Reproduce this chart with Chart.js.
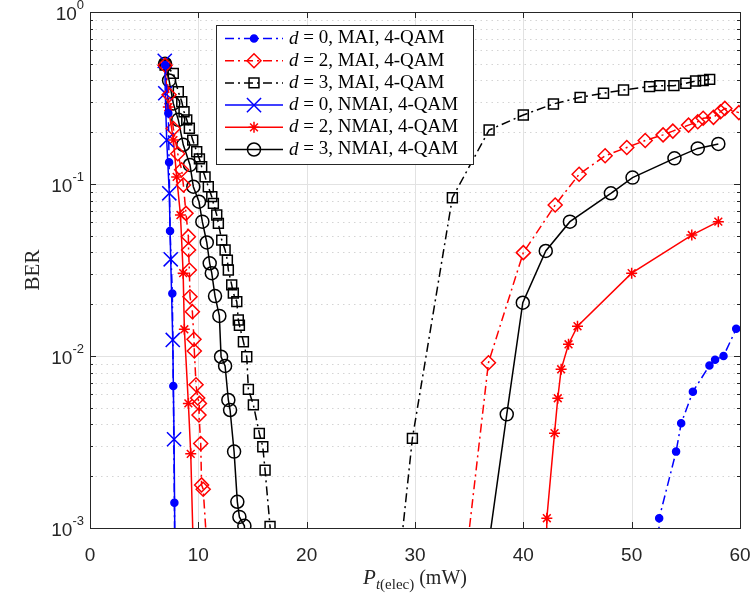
<!DOCTYPE html>
<html>
<head>
<meta charset="utf-8">
<script src="https://cdn.jsdelivr.net/npm/chart.js@4.4.0/dist/chart.umd.min.js"></script>
<style>
  body { margin: 0; background: #fff; }
  #wrap { width: 753px; height: 595px; position: relative; }
</style>
</head>
<body>
<div id="wrap"><canvas id="grafico"></canvas></div>
<script>
// Eixos
const xTickValues = [0, 10, 20, 30, 40, 50, 60];
const yDecades = [1, 0.1, 0.01, 0.001];
const yTickExponents = ['0', '-1', '-2', '-3'];

// Legendas (mesma ordem das séries)
const seriesLabels = [
  'd = 0, MAI, 4-QAM',
  'd = 2, MAI, 4-QAM',
  'd = 3, MAI, 4-QAM',
  'd = 0, NMAI, 4-QAM',
  'd = 2, NMAI, 4-QAM',
  'd = 3, NMAI, 4-QAM'
];

// d = 0, MAI (os pontos 1e-4 ficam abaixo do eixo, cortados)
const powerMai0 = [6.95, 7.23, 7.30, 7.39, 7.60, 7.69, 7.79, 7.90, 52.2, 52.54, 54.1, 54.57, 55.65, 57.18, 57.7, 58.48, 59.65];
const berMai0 = [0.49, 0.258, 0.134, 0.0533, 0.0231, 0.0067, 0.0014, 0.0001, 0.0001, 0.00114, 0.00278, 0.00406, 0.0062, 0.0088, 0.0095, 0.0100, 0.0144];

// d = 2, MAI
const powerMai2 = [6.93, 7.3, 7.69, 8.1, 8.46, 8.62, 8.86, 9.08, 9.1, 9.17, 9.23, 9.45, 9.6, 9.63, 9.79, 9.94, 10.1, 10.06, 10.22, 10.3, 10.45, 11.7,
  33.2, 36.78, 40.0, 42.94, 45.15, 47.55, 49.55, 51.25, 52.9, 53.8, 55.25, 56.1, 56.6, 57.55, 58.2, 58.6, 59.9];
const berMai2 = [0.49, 0.33, 0.21, 0.15, 0.121, 0.0986, 0.0675, 0.0494, 0.0413, 0.0316, 0.0221, 0.0181, 0.0125, 0.0107, 0.0068, 0.0057, 0.0053, 0.00454, 0.0031, 0.00178, 0.00168, 0.0001,
  0.0001, 0.00914, 0.0399, 0.0755, 0.114, 0.146, 0.163, 0.179, 0.193, 0.203, 0.220, 0.230, 0.241, 0.244, 0.263, 0.275, 0.26];

// d = 3, MAI
const powerMai3 = [6.93, 7.69, 8.15, 8.47, 8.68, 8.93, 9.17, 9.48, 9.85, 10.1, 10.31, 10.62, 10.92, 11.24, 11.39, 11.70, 11.85, 12.16, 12.47, 12.68, 12.77,
  13.08, 13.23, 13.55, 13.69, 13.79, 14.16, 14.47, 14.62, 15.08, 15.63, 15.95, 16.16, 16.62, 18.0,
  27.2, 29.76, 33.45, 36.84, 40.0, 42.78, 45.24, 47.4, 49.25, 51.65, 52.6, 53.9, 55.0, 55.9, 56.6, 57.2];
const berMai3 = [0.492, 0.440, 0.344, 0.301, 0.263, 0.236, 0.211, 0.180, 0.154, 0.140, 0.126, 0.110, 0.0964, 0.0844, 0.0772, 0.066, 0.059, 0.0472, 0.0413, 0.0361, 0.0316,
  0.0259, 0.0232, 0.0207, 0.0162, 0.0151, 0.0121, 0.0099, 0.0064, 0.0052, 0.00355, 0.00297, 0.00217, 0.00102, 0.0001,
  0.0001, 0.00332, 0.0832, 0.206, 0.252, 0.292, 0.319, 0.337, 0.352, 0.368, 0.373, 0.373, 0.385, 0.397, 0.400, 0.406];

// d = 0, NMAI
const powerNmai0 = [6.9, 6.95, 7.08, 7.32, 7.45, 7.64, 7.76, 7.95];
const berNmai0 = [0.52, 0.337, 0.18, 0.0883, 0.0365, 0.0124, 0.00328, 0.0001];

// d = 2, NMAI
const powerNmai2 = [6.9, 7.23, 7.7, 8.0, 8.35, 8.6, 8.71, 9.08, 9.3, 9.9, 42.0, 42.17, 42.88, 43.18, 43.49, 44.17, 45.0, 50.0, 55.55, 58.0];
const berNmai2 = [0.5, 0.28, 0.18, 0.11, 0.066, 0.0303, 0.0143, 0.0053, 0.0027, 0.0001, 0.0001, 0.00114, 0.00356, 0.00568, 0.00837, 0.0117, 0.0149, 0.0303, 0.0505, 0.0604];

// d = 3, NMAI
const powerNmai3 = [6.93, 7.3, 7.69, 8.15, 8.61, 9.23, 9.54, 10.06, 10.37, 10.78, 11.05, 11.24, 11.54, 11.94, 12.10, 12.47, 12.77, 12.93, 13.30, 13.60, 13.79, 14.25, 15.0,
  34.8, 38.47, 39.95, 42.07, 44.3, 48.08, 50.08, 53.95, 56.1, 58.0];
const berNmai3 = [0.5, 0.4, 0.294, 0.236, 0.169, 0.129, 0.0964, 0.0789, 0.0604, 0.0457, 0.0346, 0.0303, 0.0223, 0.0171, 0.0099, 0.00875, 0.00555, 0.00485, 0.00278, 0.00142, 0.00116, 0.00103, 0.0001,
  0.0001, 0.00458, 0.0204, 0.0408, 0.0604, 0.0883, 0.109, 0.141, 0.161, 0.171];

const pts = (xs, ys) => xs.map((v, i) => ({ x: v, y: ys[i] }));
const dashDot = [9, 4, 2, 4];

const datasets = [
  { label: seriesLabels[0], data: pts(powerMai0, berMai0), borderColor: '#0000ff', borderDash: dashDot,
    pointStyle: 'circle', pointRadius: 3.5, pointBackgroundColor: '#0000ff', pointBorderColor: '#0000ff' },
  { label: seriesLabels[1], data: pts(powerMai2, berMai2), borderColor: '#ff0000', borderDash: dashDot,
    pointStyle: 'rectRot', pointRadius: 7, pointBackgroundColor: 'transparent', pointBorderColor: '#ff0000' },
  { label: seriesLabels[2], data: pts(powerMai3, berMai3), borderColor: '#000000', borderDash: dashDot,
    pointStyle: 'rect', pointRadius: 7, pointBackgroundColor: 'transparent', pointBorderColor: '#000000' },
  { label: seriesLabels[3], data: pts(powerNmai0, berNmai0), borderColor: '#0000ff', borderDash: [],
    pointStyle: 'crossRot', pointRadius: 10, pointBackgroundColor: 'transparent', pointBorderColor: '#0000ff' },
  { label: seriesLabels[4], data: pts(powerNmai2, berNmai2), borderColor: '#ff0000', borderDash: [],
    pointStyle: 'star', pointRadius: 5.5, pointBackgroundColor: 'transparent', pointBorderColor: '#ff0000' },
  { label: seriesLabels[5], data: pts(powerNmai3, berNmai3), borderColor: '#000000', borderDash: [],
    pointStyle: 'circle', pointRadius: 6.5, pointBackgroundColor: 'transparent', pointBorderColor: '#000000' }
];
datasets.forEach(d => { d.borderWidth = 1.5; d.pointBorderWidth = 1.5; d.tension = 0; d.fill = false; });

// Visual estilo MATLAB: grades, caixa, ticks internos, legenda, títulos
const matlabLook = {
  id: 'matlabLook',
  beforeDatasetsDraw(chart) {
    const { ctx, chartArea: a, scales: { x, y } } = chart;
    ctx.save();
    ctx.lineWidth = 1;
    ctx.strokeStyle = '#d4d4d4';
    ctx.setLineDash([1.5, 4]);
    yDecades.slice(1).forEach(dec => {
      for (let m = 2; m <= 9; m++) {
        const py = Math.round(y.getPixelForValue(dec * m)) + 0.5;
        ctx.beginPath(); ctx.moveTo(a.left, py); ctx.lineTo(a.right, py); ctx.stroke();
      }
    });
    ctx.setLineDash([]);
    ctx.strokeStyle = '#e2e2e2';
    xTickValues.slice(1, -1).forEach(v => {
      const px = Math.round(x.getPixelForValue(v)) + 0.5;
      ctx.beginPath(); ctx.moveTo(px, a.top); ctx.lineTo(px, a.bottom); ctx.stroke();
    });
    yDecades.slice(1, -1).forEach(v => {
      const py = Math.round(y.getPixelForValue(v)) + 0.5;
      ctx.beginPath(); ctx.moveTo(a.left, py); ctx.lineTo(a.right, py); ctx.stroke();
    });
    ctx.restore();
  },
  afterDatasetsDraw(chart) {
    const { ctx, chartArea: a, scales: { x, y } } = chart;
    ctx.save();
    ctx.strokeStyle = '#262626';
    ctx.lineWidth = 1;
    ctx.strokeRect(a.left + 0.5, a.top + 0.5, a.right - a.left, a.bottom - a.top);
    ctx.beginPath();
    xTickValues.forEach(v => {
      const px = Math.round(x.getPixelForValue(v)) + 0.5;
      ctx.moveTo(px, a.bottom); ctx.lineTo(px, a.bottom - 6);
      ctx.moveTo(px, a.top); ctx.lineTo(px, a.top + 6);
    });
    yDecades.forEach(dec => {
      const py = Math.round(y.getPixelForValue(dec)) + 0.5;
      ctx.moveTo(a.left, py); ctx.lineTo(a.left + 6, py);
      ctx.moveTo(a.right, py); ctx.lineTo(a.right - 6, py);
      if (dec < 1) {
        for (let m = 2; m <= 9; m++) {
          const pm = Math.round(y.getPixelForValue(dec * m)) + 0.5;
          ctx.moveTo(a.left, pm); ctx.lineTo(a.left + 3, pm);
          ctx.moveTo(a.right, pm); ctx.lineTo(a.right - 3, pm);
        }
      }
    });
    ctx.stroke();

    // legenda
    const bx = 216, by = 25, bw = 257, bh = 139;
    ctx.fillStyle = '#fff';
    ctx.fillRect(bx, by, bw, bh);
    ctx.strokeStyle = '#262626';
    ctx.strokeRect(bx + 0.5, by + 0.5, bw, bh);
    chart.data.datasets.forEach((ds, i) => {
      const ry = 38.5 + i * 22.2;
      ctx.strokeStyle = ds.borderColor;
      ctx.lineWidth = ds.borderWidth;
      ctx.setLineDash(ds.borderDash);
      ctx.beginPath(); ctx.moveTo(225, ry); ctx.lineTo(283, ry); ctx.stroke();
      ctx.setLineDash([]);
      ctx.fillStyle = ds.pointBackgroundColor;
      ctx.strokeStyle = ds.pointBorderColor;
      ctx.lineWidth = ds.pointBorderWidth;
      Chart.helpers.drawPoint(ctx, { pointStyle: ds.pointStyle, radius: ds.pointRadius, rotation: 0, borderWidth: ds.pointBorderWidth }, 254, ry);
      ctx.fillStyle = '#000';
      ctx.textBaseline = 'middle';
      ctx.textAlign = 'left';
      ctx.font = 'italic 19px "Liberation Serif"';
      ctx.fillText(ds.label[0], 289, ry);
      const w = ctx.measureText(ds.label[0]).width;
      ctx.font = '19px "Liberation Serif"';
      ctx.fillText(ds.label.slice(1), 289 + w, ry);
    });
    ctx.restore();
  },
  afterDraw(chart) {
    const { ctx, chartArea: a, scales: { y } } = chart;
    ctx.save();
    ctx.fillStyle = '#262626';
    // rótulos do eixo y: 10^k
    yDecades.forEach((dec, i) => {
      const py = y.getPixelForValue(dec);
      ctx.font = '13px "Liberation Sans"';
      const ew = ctx.measureText(yTickExponents[i]).width;
      ctx.textAlign = 'left';
      ctx.textBaseline = 'alphabetic';
      ctx.fillText(yTickExponents[i], 84 - ew, py - 3);
      ctx.font = '19px "Liberation Sans"';
      ctx.textAlign = 'right';
      ctx.textBaseline = 'middle';
      ctx.fillText('10', 84 - ew, py + 3);
    });
    // título y
    ctx.save();
    ctx.translate(33, (a.top + a.bottom) / 2);
    ctx.rotate(-Math.PI / 2);
    ctx.textAlign = 'center';
    ctx.textBaseline = 'middle';
    ctx.font = '21px "Liberation Serif"';
    ctx.fillText('BER', 0, 0);
    ctx.restore();
    // título x: P_t(elec) (mW)
    const parts = [
      { t: 'P', f: 'italic 21px "Liberation Serif"', dy: 0 },
      { t: 't', f: 'italic 15px "Liberation Serif"', dy: 5 },
      { t: '(elec)', f: '15px "Liberation Serif"', dy: 5 },
      { t: ' (mW)', f: '20px "Liberation Serif"', dy: 0 }
    ];
    let total = 0;
    parts.forEach(p => { ctx.font = p.f; p.w = ctx.measureText(p.t).width; total += p.w; });
    let cx = (a.left + a.right) / 2 - total / 2;
    ctx.textAlign = 'left';
    ctx.textBaseline = 'alphabetic';
    parts.forEach(p => { ctx.font = p.f; ctx.fillText(p.t, cx, 584 + p.dy); cx += p.w; });
    ctx.restore();
  }
};

const ctx = document.getElementById('grafico').getContext('2d');
new Chart(ctx, {
  type: 'line',
  data: { datasets: datasets },
  plugins: [matlabLook],
  options: {
    responsive: true,
    maintainAspectRatio: false,
    animation: false,
    layout: { padding: { top: 12, right: 13, left: 0, bottom: 0 } },
    plugins: { legend: { display: false }, tooltip: { enabled: false } },
    scales: {
      x: {
        type: 'linear',
        min: 0,
        max: 60,
        grid: { display: false },
        border: { display: false },
        ticks: {
          stepSize: 10,
          padding: 8,
          color: '#262626',
          font: { family: 'Liberation Sans', size: 19 },
          callback: v => xTickValues.includes(v) ? String(v) : ''
        },
        afterFit: s => { s.height = 67; s.paddingLeft = 0; s.paddingRight = 0; }
      },
      y: {
        type: 'logarithmic',
        min: 0.001,
        max: 1,
        grid: { display: false },
        border: { display: false },
        ticks: { display: false },
        afterFit: s => { s.width = 90; s.paddingTop = 0; s.paddingBottom = 0; }
      }
    }
  }
});
</script>
</body>
</html>
